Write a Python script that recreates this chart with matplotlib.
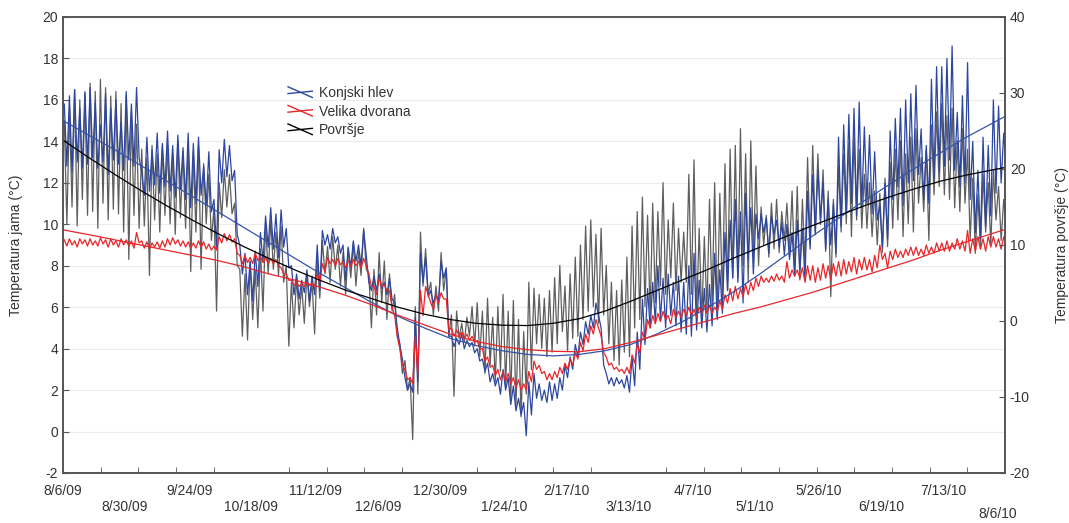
import numpy as np
import pandas as pd
import matplotlib
matplotlib.use("Agg")
import matplotlib.pyplot as plt
from matplotlib.legend_handler import HandlerBase
from matplotlib.lines import Line2D
from matplotlib.transforms import ScaledTranslation

plt.rcParams['font.family'] = ['Liberation Sans', 'DejaVu Sans']
plt.rcParams['font.size'] = 10
plt.rcParams['axes.unicode_minus'] = False

start = pd.Timestamp("2009-08-06")

date_labels = ["8/6/09", "8/30/09", "9/24/09", "10/18/09", "11/12/09", "12/6/09",
               "12/30/09", "1/24/10", "2/17/10", "3/13/10", "4/7/10", "5/1/10",
               "5/26/10", "6/19/10", "7/13/10", "8/6/10"]

# two-day windows from 8/6/09: upper and lower end of the daily swing
# Konjski hlev, cave temperature (left axis)
konjski_hi = [15.8, 16.2, 16.5, 15.6, 16.4, 16.6, 15.9, 14.8, 16.3, 15.6,
              16.0, 14.9, 16.4, 15.8, 16.6, 12.5, 14.2, 13.6, 14.4, 13.9,
              14.5, 13.8, 14.3, 13.7, 14.4, 13.9, 14.2, 12.8, 13.5, 11.2,
              13.6, 14.1, 13.8, 12.6, 9.0, 8.6, 8.2, 8.7, 9.6, 10.4,
              10.8, 10.5, 10.7, 9.8, 8.0, 7.6, 7.3, 7.8, 7.5, 9.0,
              9.7, 9.5, 9.8, 9.4, 9.0, 8.9, 9.2, 9.0, 9.7, 7.2,
              7.5, 7.6, 7.2, 7.4, 6.2, 4.2, 2.6, 2.3, 5.5, 8.6,
              8.4, 6.8, 6.6, 8.2, 7.9, 4.6, 4.5, 4.7, 4.4, 4.3,
              4.0, 3.5, 3.3, 2.8, 2.6, 3.0, 2.6, 2.2, 1.6, 1.4,
              2.4, 2.8, 2.3, 2.0, 2.4, 2.3, 2.6, 3.2, 3.6, 4.2,
              4.8, 5.3, 5.6, 6.2, 5.0, 2.8, 2.6, 2.6, 2.5, 2.7,
              3.6, 4.8, 6.4, 6.9, 7.2, 8.0, 7.4, 7.6, 7.2, 7.5,
              7.2, 8.0, 8.6, 7.3, 6.9, 7.1, 8.6, 7.8, 9.6, 10.2,
              11.2, 10.6, 11.5, 10.8, 10.5, 10.5, 10.3, 10.4, 10.2, 10.1,
              10.0, 9.6, 10.2, 9.8, 11.6, 12.4, 12.6, 12.0, 11.2, 11.0,
              14.2, 14.8, 15.3, 15.6, 15.9, 14.7, 14.3, 13.5, 10.9, 12.0,
              14.5, 15.1, 15.6, 16.0, 16.3, 16.7, 14.6, 13.8, 17.0, 17.6,
              17.6, 18.0, 18.6, 15.4, 16.2, 17.8, 14.0, 12.6, 14.2, 13.8,
              16.0, 15.7, 14.4]
konjski_lo = [12.8, 12.5, 13.0, 12.7, 12.9, 13.2, 12.7, 13.0, 12.4, 13.1,
              12.9, 12.6, 13.1, 12.8, 13.2, 11.4, 11.6, 11.9, 11.5, 11.8,
              11.6, 11.3, 11.7, 11.2, 10.8, 11.0, 11.4, 10.9, 10.6, 8.8,
              12.0, 12.3, 12.1, 9.5, 7.6, 6.6, 6.3, 7.0, 8.2, 8.9,
              8.8, 8.4, 8.9, 7.9, 6.6, 6.4, 6.7, 6.3, 6.6, 6.8,
              9.0, 8.8, 9.1, 8.6, 7.3, 7.9, 8.2, 8.0, 8.5, 6.8,
              6.8, 6.9, 6.6, 6.4, 5.0, 3.5, 2.0, 1.9, 2.4, 7.2,
              6.5, 6.2, 6.3, 7.4, 4.6, 4.1, 4.2, 4.0, 4.1, 3.8,
              3.4, 2.9, 2.4, 2.2, 1.8, 2.0, 1.3, 1.0, 0.8, -0.2,
              0.8, 1.6, 1.5, 1.4, 1.5, 1.6, 2.0, 2.6, 3.0, 3.6,
              4.2, 4.7, 5.0, 5.6, 3.2, 2.3, 2.2, 2.3, 2.1, 1.9,
              2.2, 3.0, 4.2, 5.0, 5.3, 5.4, 5.0, 5.6, 5.1, 4.8,
              4.7, 4.6, 4.9, 5.0, 4.8, 5.1, 5.4, 5.7, 6.8, 7.4,
              7.2, 6.2, 8.3, 7.6, 9.3, 9.6, 8.6, 9.5, 8.9, 8.5,
              8.3, 7.5, 7.8, 7.3, 8.8, 9.5, 10.2, 8.7, 9.0, 8.6,
              9.9, 10.6, 11.0, 10.4, 10.8, 11.0, 10.5, 10.2, 8.9, 9.3,
              11.2, 11.8, 10.9, 12.0, 12.1, 12.4, 11.2, 11.0, 12.2, 12.6,
              12.8, 13.1, 12.6, 11.8, 12.0, 11.2, 9.6, 9.3, 9.9, 10.4,
              11.5, 12.0, 12.6]

# Velika dvorana, cave temperature (left axis)
velika_hi = [9.25, 9.3, 9.2, 9.3, 9.25, 9.3, 9.2, 9.35, 9.25, 9.3,
             9.2, 9.3, 9.25, 9.2, 9.6, 9.2, 9.15, 9.1, 9.15, 9.2,
             9.3, 9.35, 9.25, 9.2, 9.15, 9.1, 9.2, 9.15, 9.05, 8.95,
             9.4, 9.55, 9.5, 9.3, 8.5, 8.5, 8.4, 8.6, 8.45, 8.4,
             8.35, 8.3, 7.9, 7.6, 7.3, 7.2, 7.15, 7.2, 7.15, 7.6,
             8.1, 8.4, 8.3, 8.35, 8.2, 8.25, 8.3, 8.2, 8.35, 7.6,
             7.0, 7.4, 7.1, 6.8, 5.6, 4.0, 3.0, 2.6, 4.6, 6.8,
             7.0, 6.2, 6.6, 6.7, 6.4, 5.0, 4.9, 4.8, 4.7, 4.6,
             4.4, 4.0, 3.6, 3.2, 3.0, 2.9, 2.8, 2.6, 2.5, 2.3,
             2.9, 3.4, 3.2, 2.9, 2.8, 2.9, 3.1, 3.3, 3.5, 3.8,
             4.3, 4.7, 5.1, 5.4, 4.6, 3.6, 3.3, 3.1, 3.0, 3.1,
             3.7, 4.2, 4.8, 5.4, 5.6, 5.7, 5.8, 5.6, 5.9, 5.8,
             5.9, 6.0, 5.9, 6.0, 6.1, 6.1, 6.0, 6.3, 6.6, 6.9,
             7.0, 6.9, 7.1, 7.2, 7.4, 7.5, 7.4, 7.5, 7.6, 7.5,
             8.2, 7.8, 7.8, 7.9, 8.0, 8.0, 7.9, 8.1, 8.0, 8.1,
             8.2, 8.3, 8.2, 8.4, 8.3, 8.4, 8.3, 8.5, 9.0, 8.6,
             8.7, 8.8, 8.7, 8.8, 8.9, 8.9, 8.8, 9.0, 8.9, 9.1,
             9.1, 9.2, 9.1, 9.3, 9.2, 9.7, 9.3, 9.4, 9.3, 9.4,
             9.4, 9.3, 9.4]
velika_lo = [8.95, 9.0, 8.9, 9.05, 8.95, 9.0, 8.95, 9.05, 8.9, 9.0,
             8.9, 9.0, 8.95, 8.85, 9.1, 8.85, 8.8, 8.9, 8.85, 8.9,
             9.0, 9.05, 8.95, 8.9, 8.85, 8.85, 8.9, 8.8, 8.75, 8.75,
             9.1, 9.2, 9.15, 8.6, 8.1, 8.15, 8.1, 8.25, 8.15, 8.1,
             8.1, 8.0, 7.6, 7.3, 7.05, 7.0, 7.0, 7.05, 7.0, 7.2,
             7.7, 8.1, 8.0, 8.05, 7.9, 7.95, 8.0, 7.9, 8.0, 7.0,
             6.6, 7.0, 6.8, 6.0, 4.6, 3.2, 2.5, 2.3, 2.8, 5.6,
             6.6, 5.9, 6.2, 6.4, 4.9, 4.6, 4.6, 4.5, 4.4, 4.3,
             4.0, 3.4, 3.1, 2.7, 2.5, 2.4, 2.3, 2.1, 2.0, 2.0,
             2.4, 3.0, 2.8, 2.5, 2.5, 2.6, 2.8, 3.0, 3.2, 3.5,
             3.9, 4.3, 4.7, 5.0, 3.8, 3.2, 3.0, 2.9, 2.8, 2.8,
             3.3, 3.8, 4.4, 5.0, 5.2, 5.3, 5.4, 5.2, 5.5, 5.5,
             5.6, 5.6, 5.5, 5.7, 5.7, 5.7, 5.8, 5.9, 6.2, 6.3,
             6.4, 6.5, 6.6, 6.8, 7.0, 7.2, 7.2, 7.25, 7.3, 7.2,
             7.4, 7.5, 7.4, 7.2, 7.3, 7.2, 7.3, 7.4, 7.3, 7.5,
             7.5, 7.6, 7.7, 7.6, 7.8, 7.8, 7.7, 7.9, 8.3, 7.9,
             8.3, 8.4, 8.4, 8.5, 8.5, 8.5, 8.5, 8.6, 8.6, 8.7,
             8.7, 8.7, 8.8, 8.8, 8.7, 8.6, 8.7, 8.8, 8.7, 8.9,
             8.9, 8.8, 8.9]

# Povrsje, surface temperature (right axis)
povrsje_hi = [26.4, 28.0, 30.4, 29.1, 29.9, 31.3, 30.2, 31.8, 30.7, 29.6,
              30.2, 28.6, 29.7, 27.5, 25.9, 22.6, 21.5, 23.1, 22.0, 22.9,
              23.1, 22.0, 23.7, 22.3, 23.4, 22.3, 23.1, 20.7, 19.3, 15.0,
              18.2, 19.9, 19.3, 15.5, 6.8, 6.2, 7.9, 6.8, 9.5, 12.8,
              13.3, 11.7, 12.5, 7.3, 5.1, 5.7, 4.6, 6.2, 5.1, 8.4,
              10.6, 9.8, 11.1, 10.0, 9.0, 9.5, 10.3, 9.2, 12.2, 6.2,
              6.8, 9.0, 7.9, 6.2, 3.5, -3.0, -5.2, -7.4, 1.9, 11.7,
              9.5, 5.1, 4.6, 9.0, 6.8, 0.8, 1.3, -0.3, 0.5, 1.9,
              2.4, 1.3, 3.0, 0.5, 1.9, 3.5, 1.3, 2.7, 0.2, -1.4,
              5.1, 4.3, 3.5, 3.0, 4.0, 5.7, 7.3, 4.6, 6.2, 8.4,
              10.0, 12.5, 13.3, 11.4, 12.2, 7.3, 5.1, 4.0, 5.4, 8.4,
              12.5, 14.4, 16.3, 13.9, 15.5, 14.4, 18.2, 13.3, 15.5, 12.2,
              11.7, 19.3, 21.2, 12.2, 11.1, 16.0, 18.2, 16.8, 20.7, 22.6,
              23.1, 25.3, 22.0, 23.7, 20.4, 15.0, 13.9, 15.5, 16.0, 14.4,
              15.5, 17.1, 17.7, 16.0, 21.5, 23.1, 22.0, 19.9, 17.1, 16.0,
              20.4, 22.0, 23.4, 24.2, 22.6, 19.3, 18.2, 17.1, 16.8, 18.8,
              20.9, 22.6, 23.7, 22.0, 24.2, 25.3, 21.5, 22.6, 25.8, 27.5,
              28.6, 27.0, 28.0, 23.7, 25.3, 22.6, 18.8, 16.6, 19.3, 18.2,
              19.9, 17.7, 16.0]
povrsje_lo = [12.7, 15.0, 12.5, 16.0, 13.9, 14.4, 12.2, 15.5, 13.3, 14.7,
              14.1, 11.7, 8.1, 13.9, 12.2, 12.5, 6.0, 13.3, 11.7, 13.9,
              12.8, 11.4, 13.6, 12.2, 6.5, 11.7, 6.8, 12.8, 10.6, 1.3,
              13.6, 15.0, 14.1, 7.3, -2.0, -2.5, 0.2, -0.9, 1.3, 6.2,
              6.8, 6.0, 5.1, -3.3, -0.9, 0.8, -0.3, 1.9, -1.7, 3.0,
              6.2, 5.1, 6.8, 4.6, 3.5, 5.7, 4.6, 6.0, 6.8, -0.9,
              0.8, 2.4, 0.2, 1.3, -2.0, -6.9, -9.1, -15.6, -9.6, 4.6,
              3.5, 0.8, 1.3, 4.0, -2.0, -9.9, -2.3, -2.8, -2.0, -3.3,
              -4.7, -6.9, -5.8, -8.0, -6.6, -8.5, -10.1, -11.2, -12.6, -9.6,
              -6.4, -3.0, -3.6, -4.7, -4.1, -3.0, -1.4, -3.9, -2.3, -2.0,
              0.2, 1.3, 1.9, -0.3, 0.8, -3.0, -5.2, -5.8, -4.1, -4.7,
              -0.9, 0.2, 1.9, 0.8, 2.4, 4.6, 3.5, 5.7, 4.0, 5.1,
              5.1, 3.5, 0.8, 0.2, 1.3, 1.9, 0.5, 2.7, 4.0, 5.7,
              5.7, 7.3, 5.1, 8.4, 7.3, 10.0, 8.4, 9.5, 9.0, 10.6,
              8.9, 6.2, 5.4, 7.3, 10.0, 11.7, 12.7, 9.5, 3.2, 8.4,
              11.7, 12.8, 11.1, 13.3, 12.2, 12.2, 11.1, 10.0, 9.0, 9.8,
              12.2, 13.3, 11.1, 12.8, 11.7, 15.5, 14.4, 10.6, 16.6, 17.7,
              16.6, 16.0, 14.9, 14.4, 15.5, 10.6, 8.9, 9.5, 11.7, 10.0,
              13.3, 10.6, 12.2]

# fitted trend lines, read every 10 days
trend_days = [0, 10, 20, 30, 40, 50, 60, 70, 80, 90, 100, 110, 120, 130, 140, 150, 160, 170, 180,
              190, 200, 210, 220, 230, 240, 250, 260, 270, 280, 290, 300, 310, 320, 330, 340, 350, 365]
konjski_trend = [15.0, 14.3, 13.6, 12.85, 12.1, 11.35, 10.6, 9.85, 9.1, 8.35, 7.6, 6.9, 6.2, 5.55,
                 5.0, 4.5, 4.15, 3.9, 3.72, 3.65, 3.72, 3.9, 4.2, 4.7, 5.3, 6.0, 6.75, 7.6, 8.5,
                 9.4, 10.25, 11.1, 11.9, 12.7, 13.45, 14.2, 15.2]
velika_trend = [9.73, 9.5, 9.25, 9.0, 8.75, 8.5, 8.25, 7.95, 7.6, 7.3, 6.95, 6.55, 6.1, 5.6,
                5.15, 4.7, 4.35, 4.1, 3.95, 3.87, 3.85, 4.0, 4.3, 4.65, 5.0, 5.35, 5.7, 6.0,
                6.35, 6.7, 7.1, 7.5, 7.9, 8.3, 8.75, 9.15, 9.75]
povrsje_trend = [23.8, 21.5, 19.3, 17.2, 15.2, 13.3, 11.5, 9.8, 8.2, 6.7, 5.3, 4.0, 2.9, 1.8,
                 0.9, 0.2, -0.3, -0.55, -0.6, -0.3, 0.3, 1.3, 2.6, 4.0, 5.4, 6.8, 8.3, 9.7,
                 11.1, 12.5, 13.8, 15.1, 16.3, 17.4, 18.4, 19.2, 20.2]

c_blue = '#2c46a0'
c_red = '#e8262a'
c_gray = '#5e5e5e'
c_text = '#333333'


def zigzag(hi, lo):
    # each window: the high first, then the low
    n = len(hi)
    x = np.empty(2 * n)
    y = np.empty(2 * n)
    x[0::2] = np.arange(n) * 2 + 0.5
    x[1::2] = np.arange(n) * 2 + 1.5
    y[0::2] = hi
    y[1::2] = lo
    return x, y


class CrossHandler(HandlerBase):
    # Statistica style key: data line crossed by its fit line
    def create_artists(self, legend, orig_handle, xdescent, ydescent,
                       width, height, fontsize, trans):
        c = orig_handle.get_color()
        x0 = -xdescent
        y0 = -ydescent
        l1 = Line2D([x0, x0 + width], [y0 + height * 1.05, y0 - height * 0.05],
                    color=c, lw=1.0, transform=trans)
        l2 = Line2D([x0, x0 + width], [y0 + height * 0.35, y0 + height * 0.6],
                    color=c, lw=1.0, transform=trans)
        return [l1, l2]


fig = plt.figure(figsize=(10.69, 5.23), dpi=100)
ax = fig.add_axes([63 / 1069, 1 - 473 / 523, 942 / 1069, 456 / 523])
ax2 = ax.twinx()
ax2.set_ylim(-20, 40)

xg, yg = zigzag(povrsje_hi, povrsje_lo)
xb, yb = zigzag(konjski_hi, konjski_lo)
xr, yr = zigzag(velika_hi, velika_lo)

# surface series drawn in the left axes but through the right axis scale
ax.plot(xg, yg, color=c_gray, lw=0.9, transform=ax2.transData, zorder=2)
lb, = ax.plot(xb, yb, color=c_blue, lw=0.9, zorder=3, label='Konjski hlev')
lr, = ax.plot(xr, yr, color=c_red, lw=0.9, zorder=4, label='Velika dvorana')

ax.plot(trend_days, konjski_trend, color='#3553a8', lw=0.9, zorder=5)
ax.plot(trend_days, velika_trend, color=c_red, lw=0.9, zorder=5)
ax.plot(trend_days, povrsje_trend, color='black', lw=0.9, zorder=5,
        transform=ax2.transData)
lk = Line2D([], [], color='black', label='Površje')

ax.set_xlim(0, 365)
ax.set_ylim(-2, 20)
ax2.set_ylim(-20, 40)

ax.set_yticks(np.arange(-2, 21, 2))
ax2.set_yticks(np.arange(-20, 41, 10))
ax.yaxis.grid(True, color='#ebebeb', lw=0.8)
ax.set_axisbelow(True)

label_days = [(pd.to_datetime(s, format="%m/%d/%y") - start).days for s in date_labels]
ax.set_xticks(label_days)
ax.set_xticklabels([s if k % 2 == 0 else "\n" + s for k, s in enumerate(date_labels)])
ax.set_xticks(np.linspace(0, 365, 26), minor=True)
ax.tick_params(axis='x', which='major', length=0, pad=8, colors=c_text, labelsize=10)
ax.tick_params(axis='x', which='minor', direction='in', length=4, color='#555555')
ax.tick_params(axis='y', direction='in', length=4, color='#555555', labelcolor=c_text, labelsize=10)
ax2.tick_params(axis='y', direction='in', length=4, color='#555555', labelcolor=c_text, labelsize=10)

# the last date sits a little left and lower in the original
last = ax.get_xticklabels()[-1]
last.set_transform(last.get_transform() + ScaledTranslation(-5 / 72, -5 / 72, fig.dpi_scale_trans))

for a in (ax, ax2):
    for s in a.spines.values():
        s.set_color('#555555')
        s.set_linewidth(1.2)

ax.set_ylabel("Temperatura jama (°C)", color=c_text, fontsize=10)
ax.yaxis.set_label_coords(-0.0425, 0.5)
ax2.set_ylabel("Temperatura površje (°C)", color=c_text, fontsize=10)
ax2.yaxis.set_label_coords(1.053, 0.5)

ax.legend(handles=[lb, lr, lk], handler_map={Line2D: CrossHandler()},
          loc='upper left', bbox_to_anchor=(288 / 1069, 1 - 86 / 523),
          bbox_transform=fig.transFigure, frameon=False, borderpad=0,
          borderaxespad=0, handlelength=1.75, handletextpad=0.5,
          labelspacing=0.33, fontsize=10, labelcolor=c_text)

fig.savefig("out.png", dpi=100)
